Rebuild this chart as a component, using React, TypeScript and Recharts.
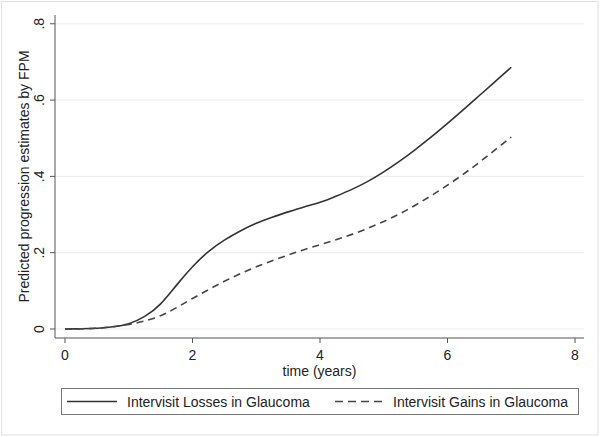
import React from "react";
import { LineChart, Line, XAxis, YAxis, CartesianGrid } from "recharts";

const timeYears = [0, 0.25, 0.5, 0.75, 1, 1.25, 1.5, 1.75, 2, 2.25, 2.5, 2.75, 3, 3.25, 3.5, 3.75, 4, 4.25, 4.5, 4.75, 5, 5.25, 5.5, 5.75, 6, 6.25, 6.5, 6.75, 7];
const lossesGlaucoma = [0, 0.0005, 0.002, 0.006, 0.014, 0.033, 0.066, 0.115, 0.163, 0.203, 0.233, 0.257, 0.277, 0.293, 0.307, 0.32, 0.332, 0.348, 0.366, 0.387, 0.412, 0.44, 0.471, 0.504, 0.539, 0.575, 0.612, 0.649, 0.686];
const gainsGlaucoma = [0, 0.0005, 0.002, 0.006, 0.012, 0.021, 0.035, 0.056, 0.08, 0.103, 0.125, 0.145, 0.163, 0.179, 0.194, 0.208, 0.221, 0.234, 0.248, 0.264, 0.282, 0.302, 0.325, 0.35, 0.377, 0.406, 0.437, 0.47, 0.503];
const xTicks = [0, 2, 4, 6, 8];
const yTicks = [0, 0.2, 0.4, 0.6, 0.8];
const yTickLabels = ["0", ".2", ".4", ".6", ".8"];
const seriesNames = ["Intervisit Losses in Glaucoma", "Intervisit Gains in Glaucoma"];
const xLabel = "time (years)";
const yLabel = "Predicted progression estimates by FPM";

const data = timeYears.map((t, i) => ({ t, losses: lossesGlaucoma[i], gains: gainsGlaucoma[i] }));

const FONT = "'Liberation Sans', Arial, Helvetica, sans-serif";
const AXIS = "#555";

const XTick = (props: any) => {
  const { x, payload } = props;
  return (
    <text x={x} y={359.5} textAnchor="middle" fontSize={14} fontFamily={FONT} fill="#222">
      {String(payload.value)}
    </text>
  );
};

const YTick = (props: any) => {
  const { y, payload } = props;
  const idx = yTicks.indexOf(payload.value);
  const label = idx >= 0 ? yTickLabels[idx] : String(payload.value);
  return (
    <text x={44} y={y} transform={`rotate(-90, 44, ${y})`} textAnchor="middle" fontSize={14} fontFamily={FONT} fill="#222">
      {label}
    </text>
  );
};

export default function App() {
  return (
    <div style={{ position: "absolute", left: 0, top: 0, width: 600, height: 437, background: "#fff" }}>
      <LineChart width={600} height={437} data={data} margin={{ top: 15, right: 16, left: 0, bottom: 0 }}>
        <CartesianGrid horizontal={true} vertical={false} stroke="#ececec" strokeWidth={1} syncWithTicks />
        <XAxis
          dataKey="t"
          type="number"
          domain={[-0.157, 8.141]}
          ticks={xTicks}
          allowDataOverflow
          height={99}
          stroke={AXIS}
          tickSize={5}
          tick={<XTick />}
          label={{
            content: () => (
              <text x={319.5} y={376} textAnchor="middle" fontSize={14} fontFamily={FONT} fill="#222">
                {xLabel}
              </text>
            ),
          }}
        />
        <YAxis
          type="number"
          domain={[-0.0236, 0.823]}
          ticks={yTicks}
          allowDataOverflow
          width={55}
          stroke={AXIS}
          tickSize={5}
          tick={<YTick />}
          label={{
            content: () => (
              <text x={29} y={176.5} transform="rotate(-90, 29, 176.5)" textAnchor="middle" fontSize={14} fontFamily={FONT} fill="#222">
                {yLabel}
              </text>
            ),
          }}
        />
        <Line type="natural" dataKey="losses" stroke="#333" strokeWidth={1.6} dot={false} isAnimationActive={false} />
        <Line type="natural" dataKey="gains" stroke="#444" strokeWidth={1.6} strokeDasharray="7 5" dot={false} isAnimationActive={false} />
      </LineChart>
      <svg width={600} height={437} style={{ position: "absolute", left: 0, top: 0, pointerEvents: "none" }}>
        <rect x={1.5} y={1.5} width={596.5} height={433.5} fill="none" stroke="#e2e2e2" strokeWidth={1} />
        <rect x={61.5} y={388.5} width={517} height={26} fill="none" stroke="#777" strokeWidth={1} />
        <line x1={67} y1={401.5} x2={117} y2={401.5} stroke="#333" strokeWidth={1.6} />
        <text x={127} y={407} fontSize={14} fontFamily={FONT} fill="#222">{seriesNames[0]}</text>
        <line x1={335} y1={401.5} x2={383} y2={401.5} stroke="#444" strokeWidth={1.6} strokeDasharray="8 5" />
        <text x={393} y={407} fontSize={14} fontFamily={FONT} fill="#222">{seriesNames[1]}</text>
      </svg>
    </div>
  );
}
